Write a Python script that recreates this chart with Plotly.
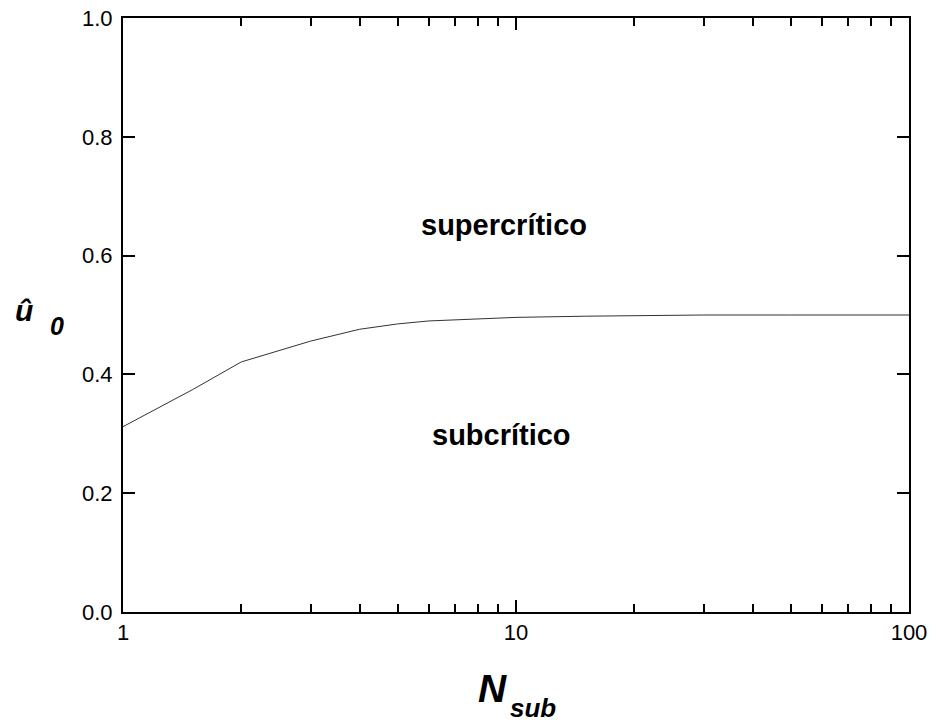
import math
import plotly.graph_objects as go

N_sub = [1, 1.5, 2, 3, 4, 5, 6, 7, 8, 10, 15, 20, 30, 50, 100]
u0 = [0.312, 0.374, 0.421, 0.456, 0.476, 0.485, 0.490, 0.492, 0.494, 0.496, 0.498, 0.499, 0.500, 0.500, 0.500]

region_labels = ["supercrítico", "subcrítico"]
region_x = [9.3, 9.2]
region_y = [0.651, 0.298]

x_ticks = [1, 10, 100]
x_minor = [m * 10 ** d for d in (0, 1) for m in range(2, 10)]
y_ticks = [0.0, 0.2, 0.4, 0.6, 0.8, 1.0]

W, H = 933, 722
L, R, T, B = 123, 909, 18, 612

fig = go.Figure()
fig.add_trace(go.Scatter(x=N_sub, y=u0, mode="lines",
                         line=dict(color="#333333", width=1), showlegend=False))

for txt, xx, yy in zip(region_labels, region_x, region_y):
    fig.add_annotation(x=math.log10(xx), y=yy, xref="x", yref="y", text="<b>" + txt + "</b>",
                       showarrow=False, xanchor="center", yanchor="middle",
                       font=dict(family="Liberation Sans, Arial", size=29, color="black"))

def px(xp):
    return (xp - L) / (R - L)

def py(yp):
    return (B - yp) / (B - T)

def title_part(text, xp, yp, size):
    fig.add_annotation(x=px(xp), y=py(yp), xref="paper", yref="paper", text=text,
                       showarrow=False, xanchor="center", yanchor="middle",
                       font=dict(family="Liberation Sans, Arial", size=size, color="black"))

# y-axis title
title_part("<b><i>û</i></b>", 24, 310, 30)
title_part("<b><i>0</i></b>", 57, 326, 25)
# x-axis title
title_part("<b><i>N</i></b>", 492, 688, 39)
title_part("<b><i>sub</i></b>", 533, 708, 26)

axis_common = dict(showgrid=False, zeroline=False, showline=True, linecolor="black", linewidth=2,
                   mirror="ticks", ticks="inside", ticklen=12, tickwidth=2, tickcolor="black",
                   automargin=False,
                   tickfont=dict(family="Liberation Sans, Arial", size=22, color="black"))

fig.update_xaxes(type="log", range=[0, 2], tickvals=x_ticks, ticktext=[str(v) for v in x_ticks],
                 minor=dict(tickvals=x_minor, ticks="inside", ticklen=8, tickwidth=2, tickcolor="black",
                            showgrid=False), **axis_common)
fig.update_yaxes(range=[0, 1], tickvals=y_ticks, ticktext=[f"{v:.1f}" for v in y_ticks],
                 ticklabelstandoff=4, **axis_common)

fig.update_layout(width=W, height=H, autosize=False,
                  margin=dict(l=L, r=W - R, t=T, b=H - B, pad=0),
                  plot_bgcolor="white", paper_bgcolor="white")

fig.write_html("out.html", config={"displayModeBar": False},
               post_script="document.body.style.margin='0';document.body.style.overflow='hidden';")
